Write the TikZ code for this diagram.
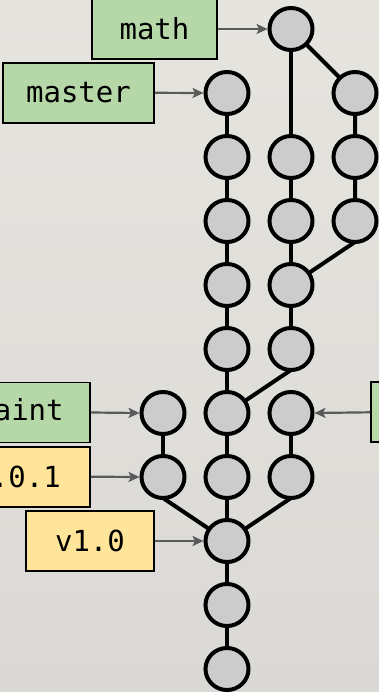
\documentclass[tikz,border=0pt]{standalone}
\usepackage{fontspec}
\newfontfamily\boxfont{DejaVu Sans Mono}
\usetikzlibrary{shapes.geometric,arrows.meta}
\pgfdeclarelayer{bg}
\pgfdeclarelayer{edges}
\pgfsetlayers{bg,edges,main}
\definecolor{bgtop}{HTML}{E6E4DF}
\definecolor{bgbot}{HTML}{DAD9D5}
\definecolor{commitgray}{HTML}{CCCCCC}
\definecolor{branchgreen}{HTML}{B6D7A8}
\definecolor{tagyellow}{HTML}{FFE599}
\definecolor{pointergray}{HTML}{5A5A5A}
\tikzset{
  commit/.style={ellipse,draw=black,fill=commitgray,line width=4pt,
    minimum width=43pt,minimum height=42pt,inner sep=0pt,outer sep=0pt},
  refbox/.style={rectangle,draw=black,line width=1.7pt,minimum height=60pt,
    inner sep=0pt,font=\boxfont\fontsize{29}{32}\selectfont,text=black},
  branchbox/.style={refbox,fill=branchgreen},
  tagbox/.style={refbox,fill=tagyellow},
  link/.style={draw=black,line width=4pt},
  pointer/.style={draw=pointergray,line width=2.2pt,
    -{Stealth[length=11pt,width=10pt,inset=2.5pt]}}
}
\begin{document}
\begin{tikzpicture}[x=1pt,y=-1pt]
\useasboundingbox (0,0) rectangle (379,692);
\begin{pgfonlayer}{bg}
  \shade[top color=bgtop,bottom color=bgbot] (0,0) rectangle (379,692);
\end{pgfonlayer}
\clip (0,0) rectangle (379,692);
% main line
\foreach \i [evaluate=\i as \yy using 93+64*(\i-1)] in {1,...,10}
  \node[commit] (m\i) at (227,\yy) {};
% math branch column
\node[commit] (math) at (291,29) {};
\node[commit] (b1) at (291,157) {};
\node[commit] (b2) at (291,221) {};
\node[commit] (b3) at (291,285) {};
\node[commit] (b4) at (291,349) {};
% right column
\node[commit] (r1) at (355,93) {};
\node[commit] (r2) at (355,157) {};
\node[commit] (r3) at (355,221) {};
% lower branches
\node[commit] (p1) at (163,413) {};
\node[commit] (p2) at (163,477) {};
\node[commit] (g1) at (291,413) {};
\node[commit] (g2) at (291,477) {};
% labels
\node[branchbox,minimum width=125pt] (lmath) at (154.5,29) {math};
\node[branchbox,minimum width=151pt] (lmaster) at (78.5,92.8) {master};
\node[branchbox,minimum width=140pt] (lpaint) at (20,412.5) {paint};
\node[tagbox,minimum width=163pt] (lv101) at (8.5,476.7) {v1.0.1};
\node[tagbox,minimum width=128pt] (lv10) at (90,541) {v1.0};
\node[branchbox,minimum width=130pt] (lright) at (436,412.3) {};
% pointers
\draw[pointer] (lmath.east) -- ([xshift=-2pt]math.west);
\draw[pointer] (lmaster.east) -- ([xshift=-2pt]m1.west);
\draw[pointer] (lpaint.east) -- ([xshift=-2pt]p1.west);
\draw[pointer] (lv101.east) -- ([xshift=-2pt]p2.west);
\draw[pointer] (lv10.east) -- ([xshift=-2pt]m8.west);
\draw[pointer] (lright.west) -- ([xshift=2pt]g1.east);
% links
\begin{pgfonlayer}{edges}
  \foreach \a/\b in {1/2,2/3,3/4,4/5,5/6,6/7,7/8,8/9,9/10}
    \draw[link] (m\a.center) -- (m\b.center);
  \draw[link] (math.center) -- (b1.center) -- (b2.center) -- (b3.center) -- (b4.center);
  \draw[link] (math.center) -- (r1.center) -- (r2.center) -- (r3.center);
  \draw[link] (r3.south) -- (b3.center);
  \draw[link] (b4.south) -- (m6.center);
  \draw[link] (p1.center) -- (p2.center);
  \draw[link] (p2.south) -- (m8.center);
  \draw[link] (g1.center) -- (g2.center);
  \draw[link] (g2.south) -- (m8.center);
\end{pgfonlayer}
\end{tikzpicture}
\end{document}
